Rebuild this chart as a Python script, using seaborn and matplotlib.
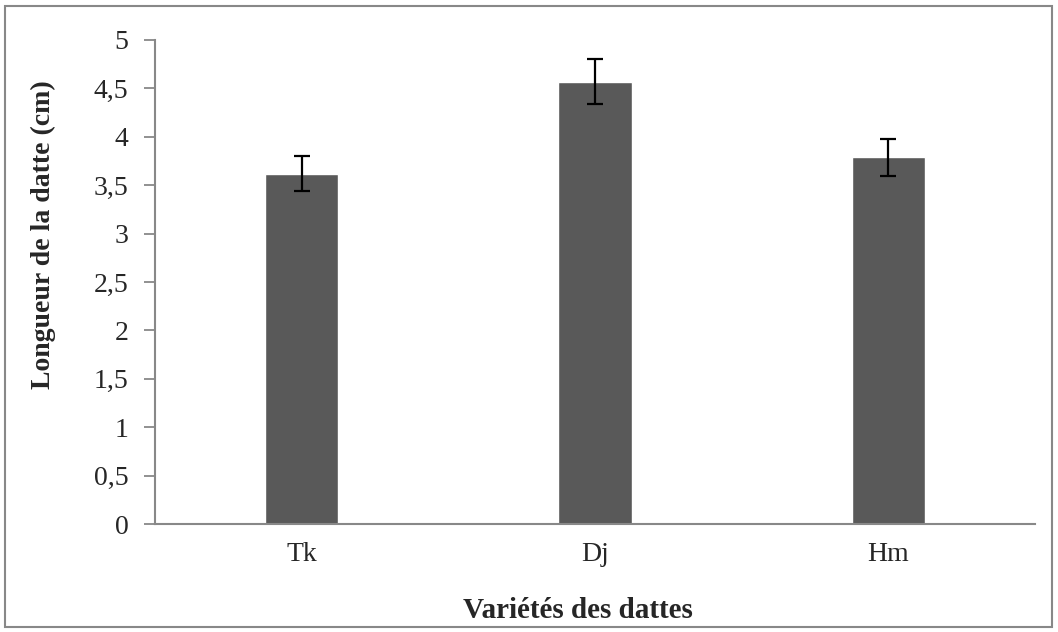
import matplotlib
matplotlib.use('Agg')
import matplotlib.pyplot as plt
import seaborn as sns
import pandas as pd
from matplotlib.patches import Rectangle

# Values
varietes = ['Tk', 'Dj', 'Hm']
longueur = [3.62, 4.57, 3.79]
erreur = [0.18, 0.23, 0.19]
y_ticks = [0, 0.5, 1, 1.5, 2, 2.5, 3, 3.5, 4, 4.5, 5]
y_labels = ['0', '0,5', '1', '1,5', '2', '2,5', '3', '3,5', '4', '4,5', '5']

df = pd.DataFrame({'variete': varietes, 'longueur': longueur})

sns.set_style('white')
plt.rcParams['font.family'] = ['Liberation Serif', 'DejaVu Serif']

fig = plt.figure(figsize=(10.58, 6.32), dpi=100)
ax = fig.add_axes([155 / 1058, 1 - 524 / 632, 880 / 1058, 484 / 632])

sns.barplot(x='variete', y='longueur', data=df, color='#595959', width=0.25,
            errorbar=None, saturation=1, ax=ax)
ax.errorbar(range(len(varietes)), longueur, yerr=erreur, fmt='none',
            ecolor='black', elinewidth=1.6, capsize=6, capthick=1.6)

ax.set_ylim(0, 5)
ax.set_xlim(-0.5, 2.5)
ax.set_yticks(y_ticks)
ax.set_yticklabels(y_labels)
ax.tick_params(axis='y', which='major', length=8, width=1.3, color='#888888',
               direction='out', labelsize=20, pad=11, left=True)
ax.tick_params(axis='x', length=0, labelsize=20, pad=13)

for side in ['top', 'right']:
    ax.spines[side].set_visible(False)
for side in ['left', 'bottom']:
    ax.spines[side].set_color('#888888')
    ax.spines[side].set_linewidth(1.5)

ax.set_xlabel('Variétés des dattes', fontsize=21, fontweight='bold')
ax.set_ylabel('Longueur de la datte (cm)', fontsize=20, fontweight='bold')
ax.xaxis.set_label_coords(0.481, -0.15)
ax.yaxis.set_label_coords(-0.112, 0.597)

# grey frame around the figure
fig.patches.append(Rectangle((5 / 1058, 5 / 632), 1047 / 1058, 621 / 632,
                             transform=fig.transFigure, fill=False,
                             edgecolor='#888888', linewidth=1.5))

fig.savefig('out.png', dpi=100)
